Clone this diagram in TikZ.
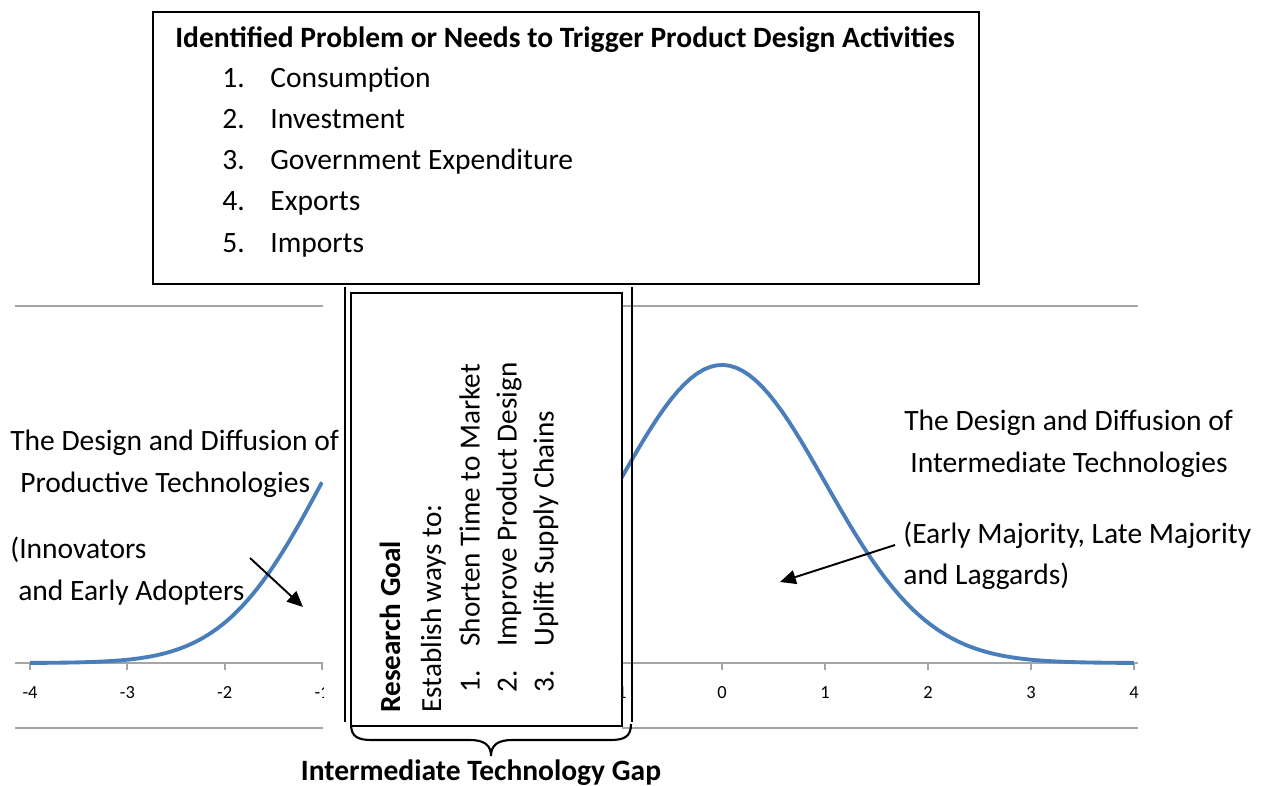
\documentclass[tikz,border=0pt]{standalone}
\usepackage{fontspec}
\setmainfont{Carlito}
\usetikzlibrary{arrows.meta}

\definecolor{curveblue}{HTML}{4A7EBB}
\definecolor{gridgray}{HTML}{A5A5A5}

\tikzset{
  frame/.style={draw=black, line width=1.2pt},
  gridline/.style={draw=gridgray, line width=1.1pt},
  bell/.style={draw=curveblue, line width=2.2pt},
  pointer/.style={->, line width=1.1pt},
  txt/.style={inner sep=0pt, font=\fontsize{16.8}{20}\selectfont},
  txtbold/.style={inner sep=0pt, font=\fontsize{16.8}{20}\selectfont\bfseries},
  goaltxt/.style={inner sep=0pt, font=\fontsize{16.6}{20}\selectfont, rotate=90, anchor=base west},
  ticklab/.style={inner sep=0pt, font=\fontsize{10.5}{12}\selectfont},
}

\begin{document}
\begin{tikzpicture}[x=0.02cm, y=-0.02cm, >={Triangle[length=9pt,width=8pt]}]
\useasboundingbox (0,0) rectangle (1261,785);

% left piece of the chart: -4 to -1
\begin{scope}
  \clip (0,295) rectangle (323,735);
  \foreach \y in {306,663,728}
    \draw[gridline] (15,\y) to (330,\y);
  \foreach \t [count=\i] in {-4,-3,-2,-1} {
    \draw[gridline] ({322+(\t+1)*97.3},663) to ++(0,7);
    \node[ticklab] (ltick\i) at ({322+(\t+1)*97.3},693) {\t};
  }
  \draw[bell] plot[domain=-4:-1, samples=60] ({322+(\x+1)*97.3},{663-298*exp(-0.5*(\x)*(\x))});
\end{scope}

% right piece of the chart: -1 to 4
\begin{scope}
  \clip (622,295) rectangle (1261,735);
  \foreach \y in {306,663,728}
    \draw[gridline] (610,\y) to (1138,\y);
  \foreach \t [count=\i] in {-1,0,1,2,3,4} {
    \draw[gridline] ({722+\t*103},663) to ++(0,7);
    \node[ticklab] (rtick\i) at ({722+\t*103},693) {\t};
  }
  \draw[bell] plot[domain=-1:4, samples=80] ({722+\x*103},{663-298*exp(-0.5*(\x)*(\x))});
\end{scope}

% trigger box
\draw[frame] (153,12) rectangle (979,284);
\node[txtbold, anchor=base west] (needs) at (175,47) {Identified Problem or Needs to Trigger Product Design Activities};
\foreach \lab [count=\i] in {Consumption, Investment, Government Expenditure, Exports, Imports} {
  \node[txt, anchor=base west] (num\i) at (222,{46+41.2*\i}) {\i.};
  \node[txt, anchor=base west] (item\i) at (270,{46+41.2*\i}) {\lab};
}

% research goal box and the gap brace
\draw[line width=0.9pt] (345,287) to (345,722);
\draw[line width=0.9pt] (632,287) to (632,722);
\draw[frame] (351,293) rectangle (622,726);
\draw[frame] (351,724) .. controls (351,737) and (358,740) .. (372,740) to (470,740)
  .. controls (484,740) and (491,745) .. (491,756)
  .. controls (491,745) and (498,740) .. (512,740) to (610,740)
  .. controls (624,740) and (631,737) .. (631,724);

\node[goaltxt, font=\fontsize{16.6}{20}\selectfont\bfseries] (goal) at (400,713) {Research Goal};
\node[goaltxt] (ways) at (441,713) {Establish ways to:};
\foreach \lab [count=\i] in {Shorten Time to Market, Improve Product Design, Uplift Supply Chains} {
  \node[goaltxt] (wnum\i) at ({442.5+37*\i},693) {\i.};
  \node[goaltxt] (way\i) at ({442.5+37*\i},647) {\lab};
}

\node[txtbold, anchor=base] (gap) at (481,780) {Intermediate Technology Gap};

% side labels
\node[txt, anchor=base west] (prodtitle1) at (10,450) {The Design and Diffusion of};
\node[txt, anchor=base west] (prodtitle2) at (20,492) {Productive Technologies};
\node[txt, anchor=base west] (prodgroup1) at (10,558) {(Innovators};
\node[txt, anchor=base west] (prodgroup2) at (18,600) {and Early Adopters};

\node[txt, anchor=base west] (intertitle1) at (904,430) {The Design and Diffusion of};
\node[txt, anchor=base west] (intertitle2) at (910,472) {Intermediate Technologies};
\node[txt, anchor=base west] (intergroup1) at (903,543) {(Early Majority, Late Majority};
\node[txt, anchor=base west] (intergroup2) at (903,584) {and Laggards)};

\coordinate (innovtail) at (250,558);
\coordinate (innovhead) at (303,607);
\coordinate (majtail) at (895,545);
\coordinate (majhead) at (780,582);
\draw[pointer] (innovtail) to (innovhead);
\draw[pointer] (majtail) to (majhead);
\end{tikzpicture}
\end{document}
